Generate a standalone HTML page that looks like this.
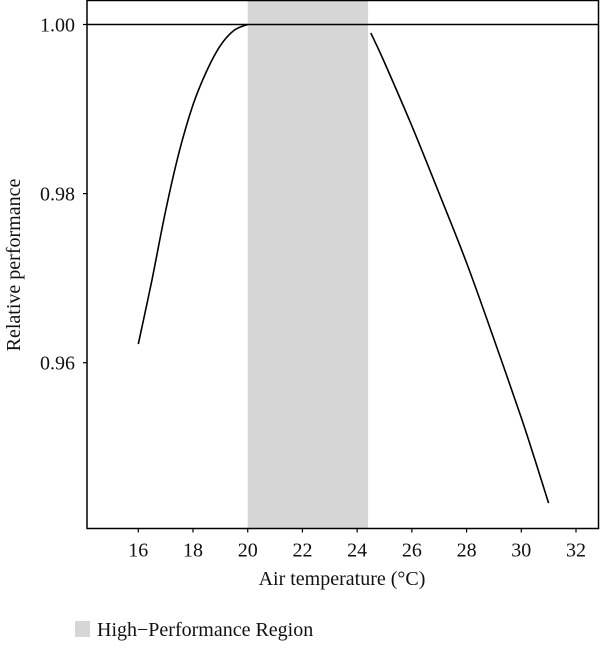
<!DOCTYPE html>
<html><head><meta charset="utf-8"><style>
body{margin:0;background:#fff;width:600px;height:644px;overflow:hidden}
svg text{font-family:"Liberation Serif",serif;fill:#111}
</style></head><body>
<svg id="chart" width="600" height="644" xmlns="http://www.w3.org/2000/svg">
<g id="plot"></g>
<text x="342" y="585" font-size="20" text-anchor="middle">Air temperature (°C)</text>
<text transform="translate(20,265) rotate(-90)" font-size="20" text-anchor="middle">Relative performance</text>
<rect x="75" y="621" width="15" height="16" fill="#d6d6d6"/>
<text x="97" y="636" font-size="20">High−Performance Region</text>
</svg>
<script>
const xTicks=[16,18,20,22,24,26,28,30,32];
const yTicks=[0.96,0.98,1.00];
const yTickLabels=["0.96","0.98","1.00"];
const region=[20,24.4];
const coldT=[16,16.5,17,17.5,18,18.5,19,19.5,20];
const coldP=[0.9622,0.9698,0.978,0.985,0.9905,0.9945,0.9975,0.9993,1.0];
const hotT=[24.5,25,26,27,28,29,30,30.5,31];
const hotP=[0.999,0.9955,0.988,0.98,0.9718,0.9628,0.9535,0.9485,0.9434];
const refLine=1.0;
const L=87,R=598.5,T=0.5,B=528.5;
const X=v=>138.3+(v-16)*(576-138.3)/16;
const Y=v=>24.5+(1-v)*(362.7-24.5)/0.04;
const NS="http://www.w3.org/2000/svg";
const g=document.getElementById('plot');
function mk(tag,attrs){const e=document.createElementNS(NS,tag);for(const k in attrs)e.setAttribute(k,attrs[k]);g.appendChild(e);return e;}
let r=mk('rect',{x:X(region[0]),y:T,width:X(region[1])-X(region[0]),height:B-T,fill:'#d6d6d6'});


let h=mk('line',{x1:L,x2:R,y1:Y(refLine),y2:Y(refLine),stroke:'#000','stroke-width':1.5});


function curve(ts,ps,name){
  const pts=ts.map((t,i)=>[X(t),Y(ps[i])]);
  let d='M'+pts[0][0].toFixed(1)+','+pts[0][1].toFixed(1);
  for(let i=0;i<pts.length-1;i++){
    const p0=pts[Math.max(0,i-1)],p1=pts[i],p2=pts[i+1],p3=pts[Math.min(pts.length-1,i+2)];
    const c1=[p1[0]+(p2[0]-p0[0])/6,p1[1]+(p2[1]-p0[1])/6];
    const c2=[p2[0]-(p3[0]-p1[0])/6,p2[1]-(p3[1]-p1[1])/6];
    d+=' C'+c1.map(v=>v.toFixed(1)).join(',')+' '+c2.map(v=>v.toFixed(1)).join(',')+' '+p2.map(v=>v.toFixed(1)).join(',');
  }
  let p=mk('path',{d:d,fill:'none',stroke:'#000','stroke-width':1.6,'stroke-linejoin':'round'});
  
  
}
curve(coldT,coldP,'cold-side-curve');
curve(hotT,hotP,'hot-side-curve');
let f=mk('rect',{x:L,y:T,width:R-L,height:B-T,fill:'none',stroke:'#000','stroke-width':1.5});


xTicks.forEach(v=>{let l=mk('line',{x1:X(v),x2:X(v),y1:B,y2:B+4,stroke:'#000','stroke-width':1.2});


let t=mk('text',{x:X(v),y:B+28,'font-size':20,'text-anchor':'middle'});t.textContent=v;

});
yTicks.forEach((v,i)=>{let l=mk('line',{x1:L-4,x2:L,y1:Y(v),y2:Y(v),stroke:'#000','stroke-width':1.2});


let t=mk('text',{x:L-12,y:Y(v)+7,'font-size':20,'text-anchor':'end'});t.textContent=yTickLabels[i];

});
</script>
</body></html>
